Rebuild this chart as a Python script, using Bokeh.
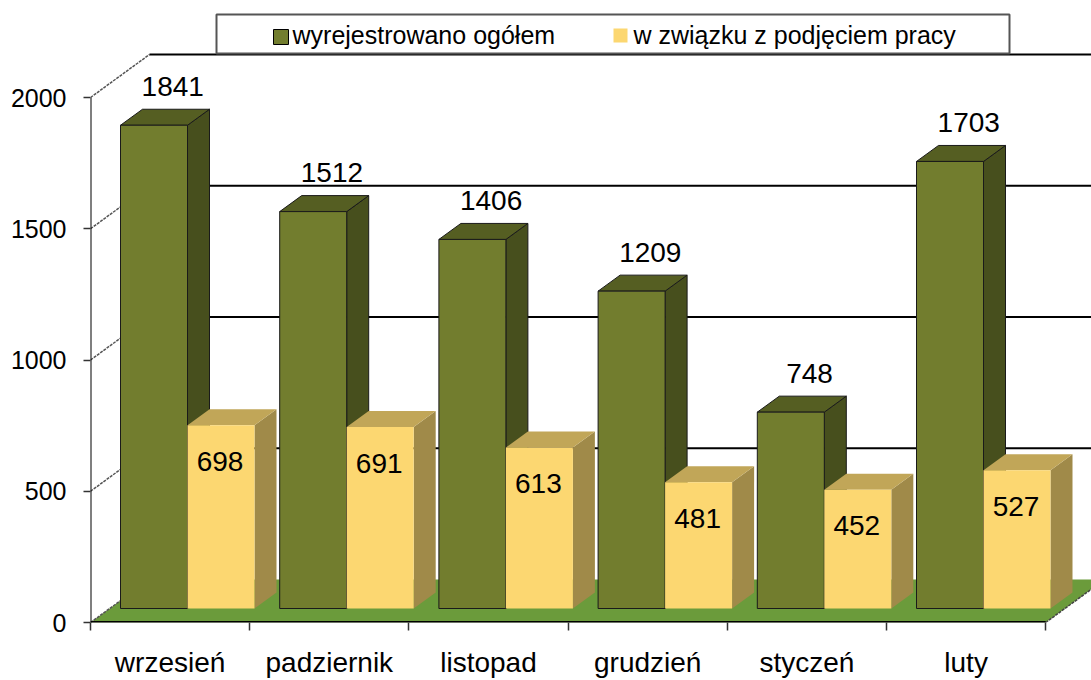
import numpy as np
from bokeh.plotting import figure
from bokeh.models import Range1d, FixedTicker
from bokeh.core.properties import value
from bokeh.embed import file_html
from bokeh.resources import INLINE

# ---------------- data ----------------
months = ["wrzesień", "padziernik", "listopad", "grudzień", "styczeń", "luty"]
total = [1841, 1512, 1406, 1209, 748, 1703]          # wyrejestrowano ogółem
work = [698, 691, 613, 481, 452, 527]                 # w związku z podjęciem pracy
y_ticks = [0, 500, 1000, 1500, 2000]
series_names = ["wyrejestrowano ogółem", "w związku z podjęciem pracy"]

# ---------------- layout / style ----------------
FONT = "Liberation Sans"
LEFT, BOTTOM = 90, 58
FRAME_W, FRAME_H = 1001, 622
CAT_PX = 159.2        # pixels per category
VAL_PX = 0.2625       # pixels per value unit
x_end = FRAME_W / CAT_PX
y_end = FRAME_H / VAL_PX


def dxp(px):
    return px / CAT_PX


def dyp(px):
    return px / VAL_PX


def rx(px):   # page-pixel x -> data x
    return (px - LEFT) / CAT_PX


def ry(py):   # page-pixel y -> data y
    return (FRAME_H - py) / VAL_PX


FRONT_DX, FRONT_DY = dxp(19), dyp(14)
DEPTH_DX, DEPTH_DY = dxp(22), dyp(16)
WALL_DX, WALL_DY = dxp(59), dyp(43)
BAR_OFF = dxp(11)
BAR_W = dxp(67)

G_FRONT, G_TOP, G_SIDE = "#727D2E", "#555E22", "#474F1D"
Y_FRONT, Y_TOP, Y_SIDE = "#FCD771", "#C1A658", "#A08A49"
FLOOR = "#6B9B3B"

n = len(months)
idx = np.arange(n, dtype=float)
tot = np.array(total, dtype=float)
wrk = np.array(work, dtype=float)

p = figure(frame_width=FRAME_W, frame_height=FRAME_H,
           x_range=Range1d(0, x_end), y_range=Range1d(0, y_end),
           output_backend="svg", toolbar_location=None,
           min_border_left=LEFT, min_border_right=0, min_border_top=0,
           min_border_bottom=BOTTOM)
p.grid.visible = False
p.outline_line_color = None
p.background_fill_color = "white"
p.border_fill_color = "white"

# y axis
ya = p.yaxis[0]
ya.ticker = FixedTicker(ticks=y_ticks, minor_ticks=[])
ya.axis_line_color = None
ya.major_tick_out = 7
ya.major_tick_in = 0
ya.major_tick_line_color = "#333333"
ya.major_tick_line_width = 1.5
ya.major_label_text_font = FONT
ya.major_label_text_font_size = "25px"
ya.major_label_text_color = "black"
ya.major_label_standoff = 17

# x axis
xa = p.xaxis[0]
xa.ticker = FixedTicker(ticks=[i + 0.5 for i in range(n)], minor_ticks=list(range(n + 1)))
xa.major_label_overrides = {i + 0.5: m for i, m in enumerate(months)}
xa.axis_line_color = None
xa.major_tick_line_color = None
xa.major_tick_out = 0
xa.major_tick_in = 0
xa.minor_tick_out = 8
xa.minor_tick_in = 0
xa.minor_tick_line_color = "#333333"
xa.minor_tick_line_width = 1.5
xa.major_label_text_font = FONT
xa.major_label_text_font_size = "28px"
xa.major_label_text_color = "black"
xa.major_label_standoff = 16

# floor
p.patch([0, n, n + WALL_DX, WALL_DX], [0, 0, WALL_DY, WALL_DY],
        fill_color=FLOOR, line_color=None)
p.segment(x0=[n], y0=[0], x1=[n + WALL_DX], y1=[WALL_DY],
          line_color="#444444", line_width=1.5, line_dash="3 1")

# side-wall diagonals and back-wall gridlines
yt = np.array(y_ticks, dtype=float)
p.segment(x0=np.zeros(len(yt)), y0=yt, x1=np.full(len(yt), WALL_DX), y1=yt + WALL_DY,
          line_color="#555555", line_width=1.5, line_dash="3 1")
p.segment(x0=np.full(len(yt) - 1, WALL_DX), y0=yt[1:] + WALL_DY,
          x1=np.full(len(yt) - 1, x_end), y1=yt[1:] + WALL_DY,
          line_color="black", line_width=2)

# axis lines
p.segment(x0=[0], y0=[0], x1=[0], y1=[max(y_ticks)], line_color="black", line_width=2)
p.segment(x0=[0], y0=[0], x1=[n], y1=[0], line_color="black", line_width=3)


def draw_bars(left, vals, front, top, side, outline):
    l = left + FRONT_DX
    r = l + BAR_W
    b = np.full(len(vals), FRONT_DY)
    t = vals + FRONT_DY
    xs_side = [[ri, ri + DEPTH_DX, ri + DEPTH_DX, ri] for ri in r]
    ys_side = [[bi, bi + DEPTH_DY, ti + DEPTH_DY, ti] for bi, ti in zip(b, t)]
    p.patches(xs_side, ys_side, fill_color=side, line_color=outline, line_width=1)
    xs_top = [[li, ri, ri + DEPTH_DX, li + DEPTH_DX] for li, ri in zip(l, r)]
    ys_top = [[ti, ti, ti + DEPTH_DY, ti + DEPTH_DY] for ti in t]
    p.patches(xs_top, ys_top, fill_color=top, line_color=outline, line_width=1)
    p.quad(left=l, right=r, bottom=b, top=t, fill_color=front,
           line_color=outline, line_width=1)
    return l, r, t


gl, gr, gt = draw_bars(idx + BAR_OFF, tot, G_FRONT, G_TOP, G_SIDE, "#1a1a1a")
yl, yr, ytop = draw_bars(idx + BAR_OFF + BAR_W, wrk, Y_FRONT, Y_TOP, Y_SIDE, None)

# value labels
p.text(x=(gl + gr) / 2 + DEPTH_DX * 0.85, y=gt + DEPTH_DY + dyp(23),
       text=[str(v) for v in total], text_font=value(FONT), text_font_size="28px",
       text_align="center", text_baseline="middle", text_color="black")
p.text(x=(yl + yr) / 2 - dxp(1), y=ytop - dyp(36),
       text=[str(v) for v in work], text_font=value(FONT), text_font_size="28px",
       text_align="center", text_baseline="middle", text_color="black")

# legend
p.quad(left=[rx(216)], right=[rx(1009)], top=[ry(14)], bottom=[ry(53)],
       fill_color="white", line_color="#555555", line_width=2)
p.quad(left=[rx(273)], right=[rx(288)], top=[ry(29)], bottom=[ry(44)],
       fill_color=G_FRONT, line_color="black", line_width=1)
p.quad(left=[rx(613)], right=[rx(627)], top=[ry(28)], bottom=[ry(42)],
       fill_color=Y_FRONT, line_color=None)
p.text(x=[rx(292), rx(633)], y=[ry(34.5), ry(34.5)], text=series_names,
       text_font=value(FONT), text_font_size="25px", text_align="left",
       text_baseline="middle", text_color="black")

open("out.html", "w").write(file_html(p, INLINE))
